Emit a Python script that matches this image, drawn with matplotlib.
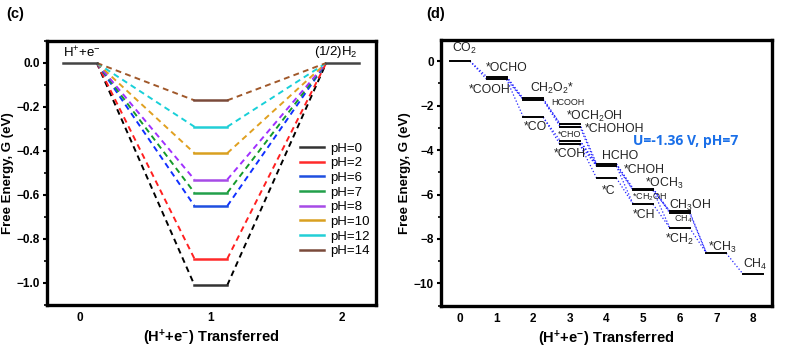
import numpy as np
import matplotlib
matplotlib.use('Agg')
import matplotlib.pyplot as plt

plt.rcParams['font.family'] = ['Liberation Sans', 'DejaVu Sans']
plt.rcParams['mathtext.default'] = 'regular'

# panel (c): HER free energy at several pH
ph = [0, 2, 6, 7, 8, 10, 12, 14]
g_hads = [-1.01, -0.89, -0.65, -0.59, -0.53, -0.41, -0.29, -0.17]
ph_colors = ['#333333', '#ff2a2a', '#1f4fe0', '#22a04a', '#a64be6', '#d9a020', '#22cfd6', '#7a4a3a']
dash_colors = ['#000000', '#ff2020', '#1030ff', '#159a2a', '#a030ff', '#e0a020', '#18d0d8', '#a0582a']

# panel (d): CO2RR intermediates
names = ['CO2', 'OCHO', 'COOH', 'CH2O2', 'HCOOH', 'CO', 'OCH2OH', 'CHOHOH', 'CHO', 'COH',
         'HCHO', 'CHOH', 'C', 'OCH3', 'CH2OH', 'CH', 'CH3OH', 'CH4s', 'CH2', 'CH3', 'CH4']
steps = [0, 1, 1, 2, 2, 2, 3, 3, 3, 3, 4, 4, 4, 5, 5, 5, 6, 6, 6, 7, 8]
energies = [0.0, -0.70, -0.82, -1.68, -1.74, -2.52, -2.82, -2.94, -3.57, -3.74,
            -4.62, -4.72, -5.26, -5.73, -5.81, -6.44, -6.76, -6.84, -7.50, -8.64, -9.58]
labels = ['CO$_2$', '*OCHO', '*COOH', 'CH$_2$O$_2$*', 'HCOOH', '*CO', '*OCH$_2$OH', '*CHOHOH', '*CHO', '*COH',
          'HCHO', '*CHOH', '*C', '*OCH$_3$', '*CH$_2$OH', '*CH', 'CH$_3$OH', 'CH$_4$', '*CH$_2$', '*CH$_3$', 'CH$_4$']
small = ['HCOOH', 'CHO', 'CH2OH', 'CH4s']
edges = [('CO2', 'OCHO'), ('CO2', 'COOH'),
         ('OCHO', 'CH2O2'), ('OCHO', 'HCOOH'), ('COOH', 'HCOOH'), ('COOH', 'CO'),
         ('CH2O2', 'OCH2OH'), ('HCOOH', 'CHOHOH'), ('HCOOH', 'OCH2OH'), ('CO', 'CHO'), ('CO', 'COH'),
         ('OCH2OH', 'HCHO'), ('CHOHOH', 'CHOH'), ('CHO', 'HCHO'), ('CHO', 'CHOH'), ('COH', 'CHOH'), ('COH', 'C'),
         ('HCHO', 'OCH3'), ('HCHO', 'CH2OH'), ('CHOH', 'CH2OH'), ('CHOH', 'CH'), ('C', 'CH'),
         ('OCH3', 'CH3OH'), ('OCH3', 'CH4s'), ('CH2OH', 'CH3OH'), ('CH2OH', 'CH2'), ('CH', 'CH2'),
         ('CH3OH', 'CH3'), ('CH4s', 'CH3'), ('CH2', 'CH3'), ('CH3', 'CH4')]
# label offsets from the left/centre of each level
lab_dx = [-0.22, -0.29, -0.75, -0.09, 0.50, -0.27, -0.11, 0.42, -0.32, -0.45,
          -0.13, 0.46, -0.13, 0.05, -0.31, -0.29, -0.28, -0.15, -0.40, -0.22, -0.26]
lab_dy = [0.55, 0.40, -0.46, 0.45, -0.10, -0.42, 0.35, -0.11, 0.27, -0.44,
          0.35, -0.18, -0.58, 0.23, -0.29, -0.46, 0.29, -0.28, -0.52, 0.24, 0.43]

fig = plt.figure(figsize=(7.93, 3.56), dpi=100)
ax1 = fig.add_axes([0.0593, 0.1433, 0.4149, 0.7416])
ax2 = fig.add_axes([0.5561, 0.1413, 0.4174, 0.7463])

hw = 0.125
for i in range(len(ph)):
    g = g_hads[i]
    ax1.plot([0.13, 1 - hw], [0, g], '--', color=dash_colors[i], lw=1.4, dashes=(3, 2.2))
    ax1.plot([1 + hw, 1.88], [g, 0], '--', color=dash_colors[i], lw=1.4, dashes=(3, 2.2))
    ax1.plot([1 - hw, 1 + hw], [g, g], '-', color=ph_colors[i], lw=1.8, label='pH=%d' % ph[i])
ax1.plot([-0.13, 0.13], [0, 0], '-', color='#444444', lw=1.8)
ax1.plot([1.88, 2.13], [0, 0], '-', color='#444444', lw=1.8)
ax1.text(-0.13, 0.012, 'H$^{+}$+e$^{-}$', fontsize=9.5, va='bottom', ha='left')
ax1.text(1.79, 0.012, '(1/2)H$_2$', fontsize=9.5, va='bottom', ha='left')
ax1.set_xlim(-0.25, 2.26)
ax1.set_ylim(-1.1, 0.1)
ax1.set_xticks([0, 1, 2])
ax1.set_yticks([0.0, -0.2, -0.4, -0.6, -0.8, -1.0])
ax1.set_yticks(np.arange(-1.1, 0.1, 0.1), minor=True)
ax1.set_yticklabels(['0.0', '\u22120.2', '\u22120.4', '\u22120.6', '\u22120.8', '\u22121.0'])
leg = ax1.legend(loc='upper left', bbox_to_anchor=(0.769, 0.615), frameon=False, fontsize=9.5,
                 handlelength=1.8, labelspacing=0.18, handletextpad=0.45, borderpad=0, borderaxespad=0)
ax1.set_ylabel('Free Energy, G (eV)', fontsize=9.5, fontweight='bold', labelpad=2)
ax1.set_xlabel('(H$^{+}$+e$^{-}$) Transferred', fontsize=10.5, fontweight='bold', labelpad=3)

idx = {n: k for k, n in enumerate(names)}
w = 0.27
for a, b in edges:
    i, j = idx[a], idx[b]
    ax2.plot([steps[i] + w, steps[j] - w], [energies[i], energies[j]], ':', color='#2020ff', lw=0.9)
for k in range(len(names)):
    ax2.plot([steps[k] - w, steps[k] + w], [energies[k], energies[k]], '-', color='black', lw=1.4)
    fs = 6.5 if names[k] in small else 8.8
    ax2.text(steps[k] + lab_dx[k], energies[k] + lab_dy[k], labels[k], fontsize=fs,
             ha='left', va='center', color='#222222')
ax2.text(4.73, -3.57, 'U=-1.36 V, pH=7', color='#1a6fe8', fontsize=10, fontweight='bold',
         ha='left', va='center', family=['Open Sans', 'DejaVu Sans'])
ax2.set_xlim(-0.52, 8.52)
ax2.set_ylim(-11, 0.95)
ax2.set_xticks(range(9))
ax2.set_yticks([0, -2, -4, -6, -8, -10])
ax2.set_yticks(np.arange(-11, 1, 1), minor=True)
ax2.set_ylabel('Free Energy, G (eV)', fontsize=9.5, fontweight='bold', labelpad=2)
ax2.set_xlabel('(H$^{+}$+e$^{-}$) Transferred', fontsize=10.5, fontweight='bold', labelpad=3)

for ax in [ax1, ax2]:
    for s in ax.spines.values():
        s.set_linewidth(2.4)
    ax.tick_params(axis='y', which='major', direction='out', length=3, width=1.5, labelsize=8.5, pad=2)
    ax.tick_params(axis='y', which='minor', direction='out', length=2, width=1.2)
    ax.tick_params(axis='x', which='major', length=0, labelsize=8.5, pad=5)
    for t in ax.get_xticklabels() + ax.get_yticklabels():
        t.set_fontweight('bold')

fig.text(0.008, 0.96, '(c)', fontsize=10.5, fontweight='bold', va='center')
fig.text(0.537, 0.96, '(d)', fontsize=10.5, fontweight='bold', va='center')

plt.savefig('out.png', dpi=100)
